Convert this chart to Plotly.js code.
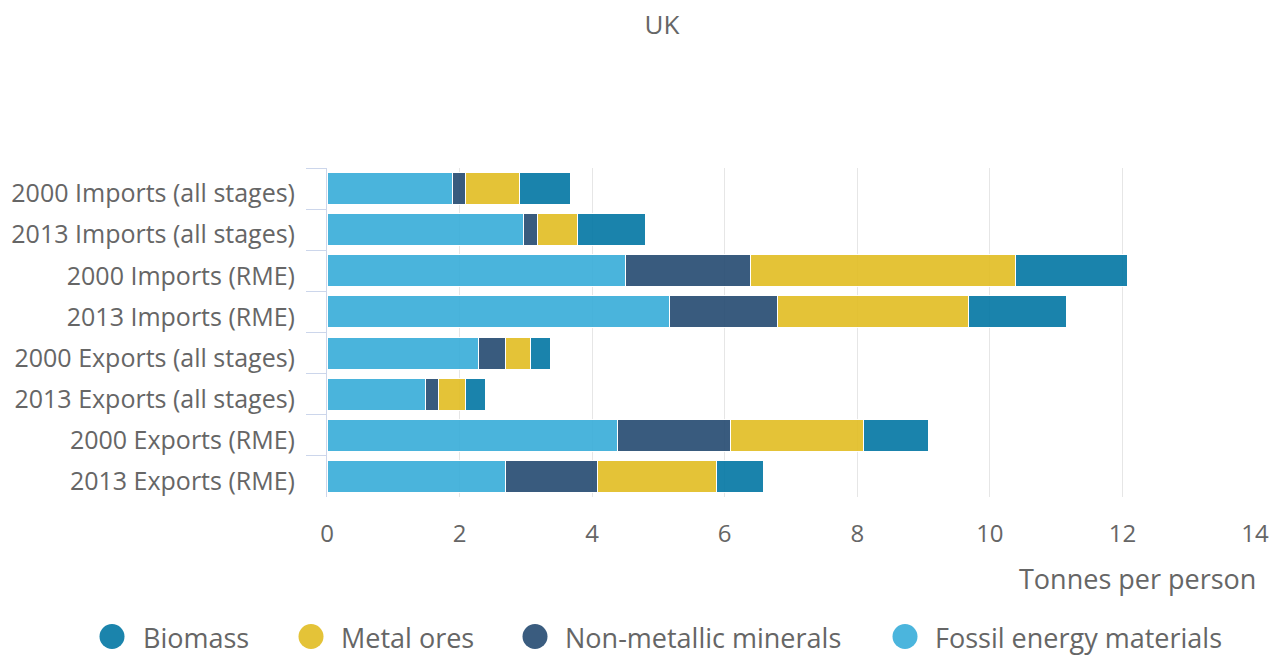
<!DOCTYPE html>
<html>
<head>
<meta charset="utf-8">
<script src="https://cdn.plot.ly/plotly-3.0.1.min.js"></script>
<style>html,body{margin:0;padding:0;background:#fff;}#chart{width:1272px;height:655px;}</style>
</head>
<body>
<div id="chart"></div>
<script>
var categories = [
  "2000 Imports (all stages)",
  "2013 Imports (all stages)",
  "2000 Imports (RME)",
  "2013 Imports (RME)",
  "2000 Exports (all stages)",
  "2013 Exports (all stages)",
  "2000 Exports (RME)",
  "2013 Exports (RME)"
];
var fossil     = [1.89, 2.97, 4.50, 5.17, 2.29, 1.48, 4.39, 2.69];
var nonMetal   = [0.20, 0.20, 1.89, 1.63, 0.40, 0.20, 1.69, 1.39];
var metalOres  = [0.82, 0.61, 4.00, 2.88, 0.38, 0.41, 2.01, 1.80];
var biomass    = [0.77, 1.02, 1.68, 1.48, 0.30, 0.30, 0.98, 0.71];
var xTicks = [0, 2, 4, 6, 8, 10, 12, 14];
var legendNames = ["Biomass", "Metal ores", "Non-metallic minerals", "Fossil energy materials"];

var barColors = {fossil: "#3baeda", nonMetal: "#294e74", metal: "#e2be27", biomass: "#0779a5"};
var legendColors = ["#1b84ac", "#e4c338", "#3a5c7f", "#4bb5dd"];

function barTrace(name, vals, color) {
  return {
    type: "bar", orientation: "h", name: name,
    y: categories, x: vals,
    marker: {color: color, opacity: 0.92, line: {color: "#ffffff", width: 1}},
    showlegend: false, hoverinfo: "x+name"
  };
}
var data = [
  barTrace("Fossil energy materials", fossil, barColors.fossil),
  barTrace("Non-metallic minerals", nonMetal, barColors.nonMetal),
  barTrace("Metal ores", metalOres, barColors.metal),
  barTrace("Biomass", biomass, barColors.biomass)
];

var L = 327, R = 17, T = 168, B = 158, W = 1272, H = 655;
var pw = W - L - R, ph = H - T - B;
function px2x(p) { return (p - L) / pw; }
function px2y(p) { return (H - B - p) / ph; }

var legendCircleX = [112, 311, 535, 905];
var legendTextX = [141, 339, 563, 933];
var legendY = 636.5;
var shapes = [], annotations = [];
for (var i = 0; i < legendNames.length; i++) {
  shapes.push({
    type: "circle", xref: "paper", yref: "paper",
    xsizemode: "pixel", ysizemode: "pixel",
    xanchor: px2x(legendCircleX[i]), yanchor: px2y(legendY),
    x0: -12.5, x1: 12.5, y0: -12.5, y1: 12.5,
    fillcolor: legendColors[i], line: {width: 0}
  });
  annotations.push({
    xref: "paper", yref: "paper", x: px2x(legendTextX[i]), y: px2y(637),
    xanchor: "left", yanchor: "middle", showarrow: false,
    text: legendNames[i], font: {family: "Open Sans", size: 27, color: "#666666"}
  });
}
annotations.push({
  xref: "paper", yref: "paper", x: 1.003, y: px2y(578),
  xanchor: "right", yanchor: "middle", showarrow: false,
  text: "Tonnes per person", font: {family: "Open Sans", size: 27, color: "#666666"}
});

var layout = {
  width: W, height: H,
  margin: {l: L, r: R, t: T, b: B, pad: 0},
  paper_bgcolor: "#ffffff", plot_bgcolor: "#ffffff",
  font: {family: "Open Sans", color: "#666666"},
  title: {text: "UK", x: 662 / W, xref: "container", xanchor: "center",
          y: 1 - 25 / H, yref: "container", yanchor: "middle",
          font: {family: "Open Sans", size: 26, color: "#666666"}},
  barmode: "stack", bargap: 0.22,
  showlegend: false,
  xaxis: {
    range: [0, 14], tickvals: xTicks, ticktext: xTicks.map(String),
    showgrid: true, gridcolor: "#e6e6e6", gridwidth: 1,
    zeroline: false, showline: false, ticks: "",
    tickfont: {family: "Open Sans", size: 24, color: "#666666"},
    ticklabelstandoff: 20, fixedrange: true
  },
  yaxis: {
    type: "category", autorange: "reversed",
    showline: true, linecolor: "#ccd6eb", linewidth: 1,
    ticks: "outside", tickson: "boundaries", ticklen: 20, tickcolor: "#ccd6eb", tickwidth: 1,
    showgrid: false, zeroline: false,
    tickfont: {family: "Open Sans", size: 25, color: "#666666"},
    ticklabelstandoff: 26, ticklabelshift: -5, fixedrange: true
  },
  shapes: shapes,
  annotations: annotations
};

Plotly.newPlot("chart", data, layout, {displayModeBar: false, staticPlot: true});
</script>
</body>
</html>
